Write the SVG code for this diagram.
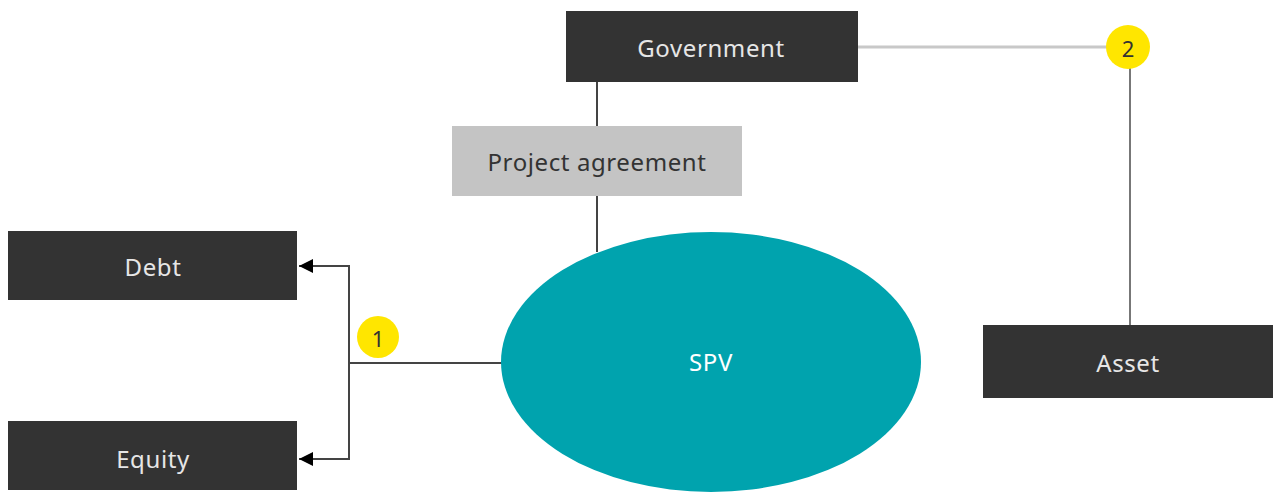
<svg xmlns="http://www.w3.org/2000/svg" width="1273" height="492" viewBox="0 0 1273 492">
<defs>
<style>
.dark{fill:#333333}
.lt{font-family:"Noto Sans",sans-serif;font-size:24px;letter-spacing:0.6px;fill:#e6e6e6;text-anchor:middle;dominant-baseline:central}
.dt{font-family:"Noto Sans",sans-serif;font-size:24px;letter-spacing:0.6px;fill:#333333;text-anchor:middle;dominant-baseline:central}
.badge{fill:#ffe600}
.bt{font-family:"Noto Sans",sans-serif;font-size:22px;fill:#333333;text-anchor:middle;dominant-baseline:central}
</style>
<marker id="arr" viewBox="0 0 10 10" refX="10" refY="5" markerWidth="14" markerHeight="14" markerUnits="userSpaceOnUse" orient="auto">
<path d="M0,0 L10,5 L0,10 z" fill="#000"/>
</marker>
</defs>
<rect width="1273" height="492" fill="#fff"/>
<g id="connectors" fill="none">
<line x1="597" y1="82" x2="597" y2="126" stroke="#444" stroke-width="2"/>
<line x1="597" y1="196" x2="597" y2="252" stroke="#444" stroke-width="2"/>
<line x1="858" y1="47" x2="1108" y2="47" stroke="#c8c8c8" stroke-width="3"/>
<line x1="1130" y1="66" x2="1130" y2="325" stroke="#777" stroke-width="2"/>
<line x1="502" y1="363" x2="349" y2="363" stroke="#444" stroke-width="2"/>
<polyline points="349,363 349,266 299,266" stroke="#444" stroke-width="2" marker-end="url(#arr)"/>
<polyline points="349,363 349,459 299,459" stroke="#444" stroke-width="2" marker-end="url(#arr)"/>
</g>
<g id="government"><rect class="dark" x="566" y="11" width="292" height="71"/><text class="lt" x="711" y="47">Government</text></g>
<g id="project-agreement"><rect fill="#c4c4c4" x="452" y="126" width="290" height="70"/><text class="dt" x="597" y="161">Project agreement</text></g>
<g id="spv"><ellipse cx="711" cy="362" rx="210" ry="130" fill="#00a3ae"/><text class="lt" x="711" y="361" style="fill:#ffffff">SPV</text></g>
<g id="debt"><rect class="dark" x="8" y="231" width="289" height="69"/><text class="lt" x="153" y="266">Debt</text></g>
<g id="equity"><rect class="dark" x="8" y="421" width="289" height="69"/><text class="lt" x="153" y="458">Equity</text></g>
<g id="asset"><rect class="dark" x="983" y="325" width="290" height="73"/><text class="lt" x="1128" y="362">Asset</text></g>
<g id="badge1"><circle class="badge" cx="378" cy="337" r="21"/><text class="bt" x="378" y="338">1</text></g>
<g id="badge2"><circle class="badge" cx="1128" cy="47" r="22"/><text class="bt" x="1128" y="48">2</text></g>
</svg>
